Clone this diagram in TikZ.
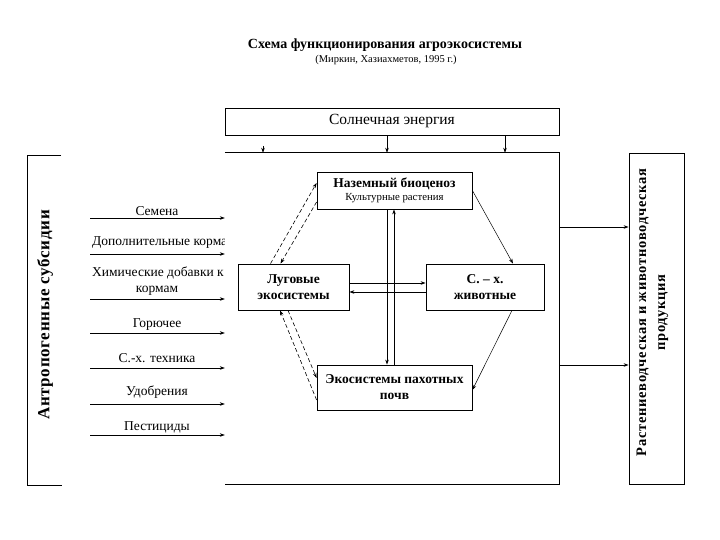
\documentclass[tikz,border=0pt]{standalone}
\usepackage{fontspec}
\setmainfont{Liberation Serif}
\usetikzlibrary{arrows.meta}
\begin{document}
\begin{tikzpicture}[x=1pt,y=-1pt,
  frame/.style={draw, line width=0.8pt, inner sep=0pt},
  nbox/.style={frame, align=center, font=\fontsize{13.5}{16}\selectfont\bfseries},
  arr/.style={-{Stealth[length=5pt,width=3.5pt]}, line width=0.6pt},
  darr/.style={arr, dash pattern=on 4pt off 2.5pt},
  inlabel/.style={font=\fontsize{13.5}{15}\selectfont, inner sep=0pt}]
\useasboundingbox (0,0) rectangle (720,540);

% title
\node[font=\fontsize{14}{16}\selectfont\bfseries, inner sep=0pt] (title) at (385,45) {Схема функционирования агроэкосистемы};
\node[font=\fontsize{10.5}{12}\selectfont, inner sep=0pt] (sub) at (386,60) {(Миркин, Хазиахметов, 1995 г.)};

% solar energy
\node[frame, minimum width=334pt, minimum height=27pt, font=\fontsize{15.5}{17}\selectfont] (solar) at (392,121.5) {Солнечная энергия};

% main frame (open on the left)
\node[minimum width=334pt, minimum height=331pt, inner sep=0pt] (main) at (392,318.5) {};
\draw[line width=0.8pt] (main.north west) -- (main.north east) -- (main.south east) -- (main.south west);

% solar arrows
\coordinate (s1) at (263,146);
\draw[arr] (s1) -- (s1 |- main.north);
\draw[arr] (solar.south -| 387,0) -- (main.north -| 387,0);
\draw[arr] (solar.south -| 505,0) -- (main.north -| 505,0);

% left bracket box
\coordinate (lb1) at (61,155);
\coordinate (lb2) at (27,155);
\coordinate (lb3) at (27,485);
\coordinate (lb4) at (62,485);
\draw[line width=0.8pt] (lb1) -- (lb2) -- (lb3) -- (lb4);
\node[rotate=90, font=\fontsize{17}{19}\selectfont\bfseries\addfontfeature{LetterSpace=4}, inner sep=0pt] (anthro) at (45,315) {Антропогенные субсидии};

% right box
\node[frame, minimum width=55pt, minimum height=331pt] (prod) at (656.5,318.5) {};
\node[rotate=90, align=center, font=\fontsize{14.5}{19}\selectfont\bfseries\addfontfeature{LetterSpace=5}, inner sep=0pt] (prodtext) at (652.5,312.5) {Растениеводческая и животноводческая\\продукция};
\draw[arr] (main.east |- 0,227) -- (prod.west |- 0,227);
\draw[arr] (main.east |- 0,365) -- (prod.west |- 0,365);

% inner nodes
\node[nbox, minimum width=155pt, minimum height=37pt] (bio) at (394.5,190.5) {Наземный биоценоз\\[-3pt]{\fontsize{10.8}{12}\selectfont\mdseries Культурные растения}};
\node[nbox, minimum width=111pt, minimum height=46pt] (lug) at (293.5,287) {Луговые\\экосистемы};
\node[nbox, minimum width=118pt, minimum height=46pt] (anim) at (485,287) {С. – х.\\животные};
\node[nbox, minimum width=155pt, minimum height=45pt] (soil) at (394.5,387.5) {Экосистемы пахотных\\почв};

% vertical arrows
\draw[arr] ([xshift=-7.5pt]bio.south) -- ([xshift=-7.5pt]bio.south |- soil.north);
\draw[arr] ([xshift=-0.5pt]bio.south |- soil.north) -- ([xshift=-0.5pt]bio.south);

% horizontal arrows (canvas yshift is upward)
\draw[arr] ([yshift=4pt]lug.east) -- ([yshift=4pt]lug.east -| anim.west);
\draw[arr] ([yshift=-5pt]lug.east -| anim.west) -- ([yshift=-5pt]lug.east);

% dashed links
\draw[darr] ([xshift=-23pt]lug.north) -- ([yshift=7.5pt]bio.west);
\draw[darr] ([yshift=-11.5pt]bio.west) -- ([xshift=-13pt]lug.north);
\draw[darr] ([yshift=-12.5pt]soil.west) -- ([xshift=-13.5pt]lug.south);
\draw[darr] ([xshift=-5.5pt]lug.south) -- ([yshift=9.5pt]soil.west);

% solid diagonal links
\draw[arr, line width=0.5pt] (bio.east) -- ([xshift=28pt]anim.north);
\draw[arr, line width=0.5pt] ([xshift=27pt]anim.south) -- ([yshift=-2.5pt]soil.east);

% inputs
\foreach \name/\y in {i1/218, i2/254, i3/299, i4/333, i5/368, i6/404, i7/435} {
  \coordinate (\name) at (90,\y);
  \draw[arr] (\name) -- (\name -| main.west);
}
\begin{scope}
\clip (80,195) rectangle (main.south west);
\node[inlabel] (l1) at (157,211) {Семена};
\node[inlabel, anchor=west] (l2) at (92,243) {Дополнительные корма};
\node[inlabel, anchor=west] (l3a) at (92,273) {Химические добавки к};
\node[inlabel] (l3b) at (157,291) {кормам};
\node[inlabel] (l4) at (157,325) {Горючее};
\node[inlabel] (l5) at (157,358) {С.-х. техника};
\node[inlabel] (l6) at (157,392) {Удобрения};
\node[inlabel] (l7) at (157,427) {Пестициды};
\end{scope}
\end{tikzpicture}
\end{document}
